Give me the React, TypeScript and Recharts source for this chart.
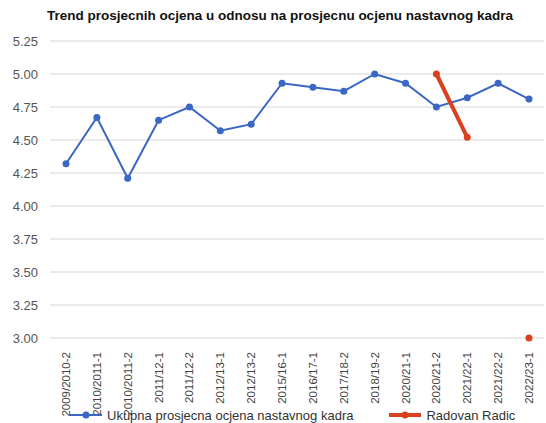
import { LineChart, Line, XAxis, YAxis, CartesianGrid, Legend } from "recharts";

const semesters = [
  "2009/2010-2",
  "2010/2011-1",
  "2010/2011-2",
  "2011/12-1",
  "2011/12-2",
  "2012/13-1",
  "2012/13-2",
  "2015/16-1",
  "2016/17-1",
  "2017/18-2",
  "2018/19-2",
  "2020/21-1",
  "2020/21-2",
  "2021/22-1",
  "2021/22-2",
  "2022/23-1",
];

const staffAverage = [4.32, 4.67, 4.21, 4.65, 4.75, 4.57, 4.62, 4.93, 4.9, 4.87, 5.0, 4.93, 4.75, 4.82, 4.93, 4.81];
const radovanRadic: (number | null)[] = [
  null, null, null, null, null, null, null, null, null, null, null, null, 5.0, 4.52, null, 3.0,
];
const yTicks = [3.0, 3.25, 3.5, 3.75, 4.0, 4.25, 4.5, 4.75, 5.0, 5.25];

const BLUE = "#3a67c4";
const RED = "#d9411e";

const data = semesters.map((name, i) => ({
  name,
  staff: staffAverage[i],
  radic: radovanRadic[i],
}));

const RotatedTick = ({ x, y, payload }: any) => (
  <text
    x={0}
    y={0}
    transform={`translate(${x + 4},${y + 6}) rotate(-90)`}
    textAnchor="end"
    fontSize={11.5}
    fill="#444"
  >
    {payload.value}
  </text>
);

const LegendContent = () => (
  <div style={{ display: "flex", alignItems: "center", fontSize: 13, lineHeight: "15px", color: "#333", paddingLeft: 70, height: 16 }}>
    <svg width={32} height={10} style={{ marginRight: 5 }}>
      <line x1={0} y1={5} x2={32} y2={5} stroke={BLUE} strokeWidth={2} />
      <circle cx={16} cy={5} r={3.5} fill={BLUE} />
    </svg>
    <span>Ukupna prosjecna ocjena nastavnog kadra</span>
    <svg width={32} height={10} style={{ marginLeft: 36, marginRight: 5 }}>
      <line x1={0} y1={5} x2={32} y2={5} stroke={RED} strokeWidth={4} />
      <circle cx={16} cy={5} r={3.5} fill={RED} />
    </svg>
    <span>Radovan Radic</span>
  </div>
);

export default function App() {
  return (
    <div style={{ position: "absolute", left: 0, top: 0, width: 546, height: 423, overflow: "hidden", background: "#fff", fontFamily: "'Liberation Sans', Arial, sans-serif" }}>
      <div style={{ position: "absolute", left: 0, top: 8, width: 560, textAlign: "center", fontWeight: "bold", fontSize: 13.5, color: "#111" }}>
        Trend prosjecnih ocjena u odnosu na prosjecnu ocjenu nastavnog kadra
      </div>
      <LineChart width={546} height={423} data={data} margin={{ top: 41, right: 2, left: 0, bottom: 0 }}>
        <CartesianGrid vertical={false} stroke="#d6d6d6" />
        <XAxis
          dataKey="name"
          interval={0}
          height={69}
          padding={{ left: 16, right: 15 }}
          tick={<RotatedTick />}
          tickLine={false}
          axisLine={false}
        />
        <YAxis
          width={50}
          domain={[3, 5.25]}
          ticks={yTicks}
          tickFormatter={(v: number) => v.toFixed(2)}
          tick={{ fontSize: 13, fill: "#555" }}
          tickLine={false}
          axisLine={false}
          tickSize={0}
          tickMargin={12}
        />
        <Legend verticalAlign="bottom" height={16} content={<LegendContent />} />
        <Line
          type="linear"
          dataKey="staff"
          stroke={BLUE}
          strokeWidth={2}
          dot={{ r: 3.5, fill: BLUE, stroke: BLUE, strokeWidth: 0 }}
          isAnimationActive={false}
        />
        <Line
          type="linear"
          dataKey="radic"
          stroke={RED}
          strokeWidth={4}
          dot={{ r: 3.5, fill: RED, stroke: RED, strokeWidth: 0 }}
          isAnimationActive={false}
        />
      </LineChart>
    </div>
  );
}
